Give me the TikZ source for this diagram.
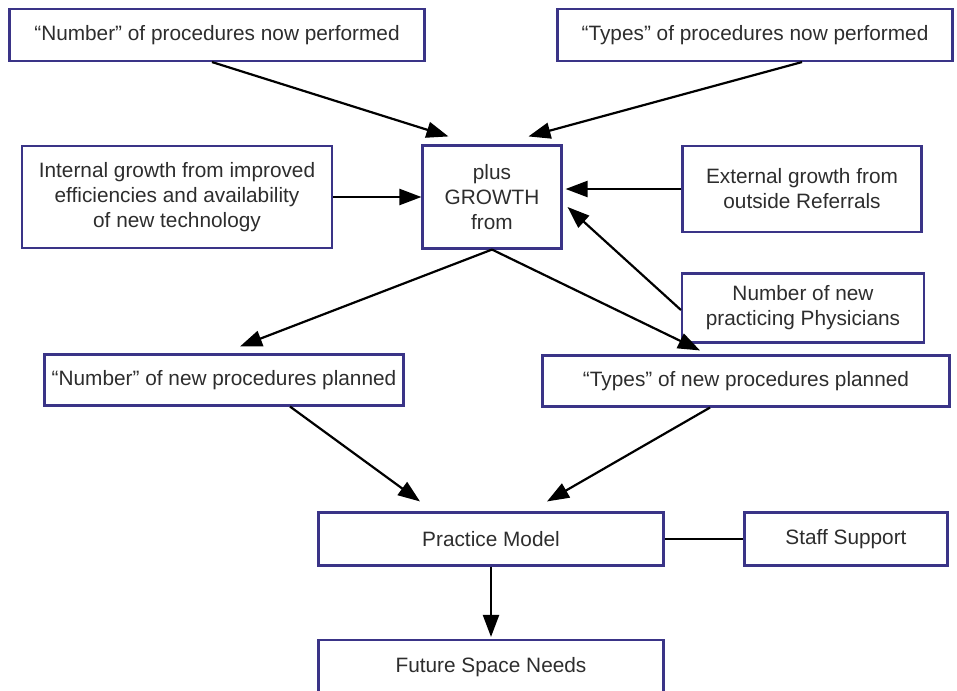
\documentclass[tikz,border=0pt]{standalone}
\usepackage{fontspec}
\setmainfont{Liberation Sans}
\usetikzlibrary{calc}
\usetikzlibrary{arrows.meta}
\definecolor{boxblue}{RGB}{58,52,135}
\definecolor{txtgray}{RGB}{45,45,45}
\tikzset{
  box/.style={draw=boxblue, line width=1.05pt, text=txtgray, align=center,
    inner sep=0pt, font=\fontsize{10.4}{12.5}\selectfont},
  arr/.style={draw=black, line width=1.1pt, -{Triangle[length=11pt,width=8pt]}}
}

\begin{document}
\begin{tikzpicture}[x=0.5pt,y=-0.5pt]
\useasboundingbox (0,0) rectangle (957,690);
\clip (0,0) rectangle (957,690);
\node [box, minimum width=415*0.5pt, minimum height=52*0.5pt] (num1) at (217,35) {``Number'' of procedures now performed};
\node [box, minimum width=395*0.5pt, minimum height=52*0.5pt] (typ1) at (755,35) {``Types'' of procedures now performed};
\node [box, minimum width=310*0.5pt, minimum height=102*0.5pt] (intern) at (177,197) {Internal growth from improved\\efficiencies and availability\\of new technology};
\node [box, minimum width=139*0.5pt, minimum height=103*0.5pt] (growth) at (492,197) {plus\\GROWTH\\from};
\node [box, minimum width=239*0.5pt, minimum height=86*0.5pt] (extern) at (802,189) {External growth from\\outside Referrals};
\node [box, minimum width=242*0.5pt, minimum height=69*0.5pt] (phys) at (803,308) {Number of new\\practicing Physicians};
\node [box, minimum width=359*0.5pt, minimum height=51*0.5pt] (num2) at (224,380) {``Number'' of new procedures planned};
\node [box, minimum width=407*0.5pt, minimum height=51*0.5pt] (typ2) at (746,381) {``Types'' of new procedures planned};
\node [box, minimum width=345*0.5pt, minimum height=53*0.5pt] (pmodel) at (491,539) {Practice Model};
\node [box, minimum width=203*0.5pt, minimum height=53*0.5pt] (staff) at (846,539) {Staff Support};
\node [box, minimum width=345*0.5pt, minimum height=54*0.5pt] (future) at (491,667) {Future Space Needs};

\draw[arr] ($(num1.south)+(-5,0)$) -- ($(growth.north west)+(27,-8)$);
\draw[arr] ($(typ1.south)+(47,0)$) -- ($(growth.north west)+(107,-8)$);
\draw[arr] (intern.east) -- (growth.west);
\draw[arr, shorten >=3*0.5pt] (extern.west) -- (extern.west -| growth.east);
\draw[arr] ($(phys.west)+(0,2)$) -- ($(growth.east)+(5,10)$);
\draw[arr] (growth.south) -- ($(num2.north)+(16,-7)$);
\draw[arr] (growth.south) -- ($(typ2.north)+(-46,-4)$);
\draw[arr] ($(num2.south)+(66,0)$) -- ($(pmodel.north)+(-71,-10)$);
\draw[arr] ($(typ2.south)+(-36,0)$) -- ($(pmodel.north)+(56,-10)$);
\draw[line width=1.1pt] (pmodel.east) -- (staff.west);
\draw[arr, shorten >=2*0.5pt] (pmodel.south) -- (future.north);
\end{tikzpicture}
\end{document}
